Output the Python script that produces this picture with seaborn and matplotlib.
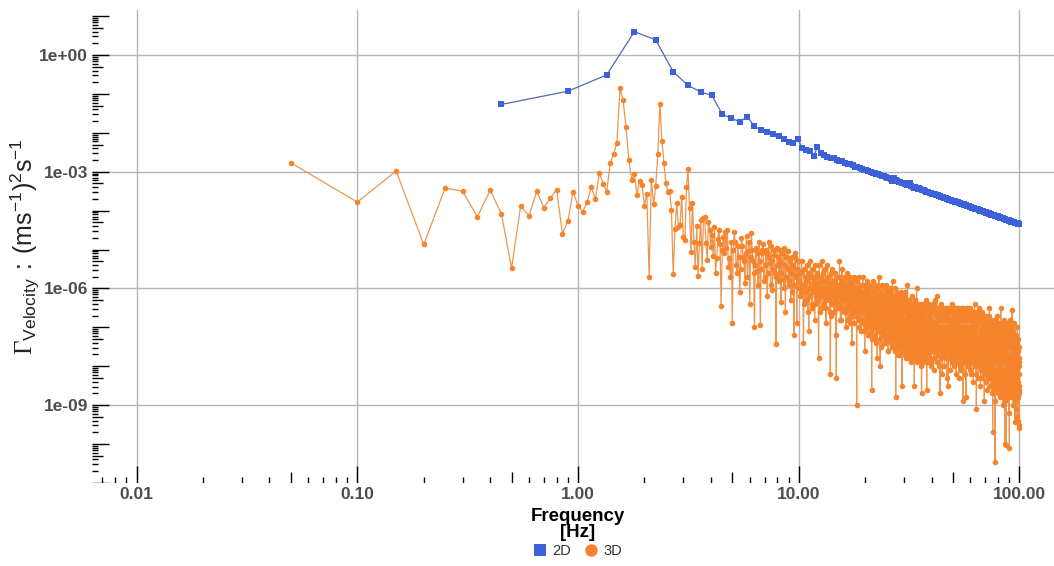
import numpy as np
import pandas as pd
import matplotlib
matplotlib.use("Agg")
import matplotlib.pyplot as plt
from matplotlib.lines import Line2D
import seaborn as sns

# ---------------------------------------------------------------
# data (log10 of the spectral density)
# ---------------------------------------------------------------

# 2D case, bins every 0.45 Hz starting at 0.45 Hz
step_2d = 0.45
psd_2d_log = [
    -1.27, -0.93, -0.51, 0.60, 0.39, -0.43, -0.78, -0.95, -1.04, -1.52,
    -1.63, -1.71, -1.59, -1.83, -1.93, -1.99, -2.04, -2.08, -2.17, -2.23,
    -2.27, -2.16, -2.38, -2.44, -2.48, -2.59, -2.37, -2.51, -2.58, -2.61,
    -2.64, -2.66, -2.70, -2.72, -2.73, -2.77, -2.80, -2.81, -2.84, -2.87,
    -2.88, -2.91, -2.92, -2.95, -2.96, -2.98, -3.01, -3.02, -3.03, -3.06,
    -3.07, -3.08, -3.11, -3.12, -3.14, -3.16, -3.17, -3.19, -3.23, -3.16,
    -3.22, -3.25, -3.26, -3.27, -3.29, -3.30, -3.31, -3.28, -3.34, -3.35,
    -3.28, -3.36, -3.38, -3.41, -3.40, -3.42, -3.44, -3.43, -3.45, -3.47,
    -3.47, -3.48, -3.49, -3.51, -3.52, -3.53, -3.54, -3.55, -3.56, -3.57,
    -3.57, -3.58, -3.59, -3.60, -3.61, -3.62, -3.63, -3.64, -3.65, -3.66,
    -3.67, -3.67, -3.68, -3.69, -3.70, -3.71, -3.72, -3.72, -3.73, -3.74,
    -3.75, -3.75, -3.76, -3.77, -3.78, -3.79, -3.79, -3.80, -3.81, -3.81,
    -3.82, -3.83, -3.84, -3.84, -3.85, -3.86, -3.86, -3.87, -3.88, -3.88,
    -3.89, -3.90, -3.90, -3.91, -3.92, -3.92, -3.93, -3.94, -3.94, -3.95,
    -3.95, -3.96, -3.97, -3.97, -3.98, -3.99, -3.99, -4.00, -4.00, -4.01,
    -4.01, -4.02, -4.03, -4.03, -4.04, -4.04, -4.05, -4.05, -4.06, -4.06,
    -4.07, -4.08, -4.08, -4.09, -4.09, -4.10, -4.10, -4.11, -4.11, -4.12,
    -4.12, -4.13, -4.13, -4.14, -4.14, -4.15, -4.15, -4.16, -4.16, -4.17,
    -4.17, -4.18, -4.18, -4.19, -4.19, -4.20, -4.20, -4.20, -4.21, -4.21,
    -4.22, -4.22, -4.23, -4.23, -4.24, -4.24, -4.25, -4.25, -4.25, -4.26,
    -4.26, -4.27, -4.27, -4.28, -4.28, -4.28, -4.29, -4.29, -4.30, -4.30,
    -4.30, -4.31, -4.31, -4.32, -4.32, -4.33, -4.33, -4.33, -4.34, -4.34,
    -4.35, -4.35,
]

# 3D case, 0.05 Hz bins up to 5 Hz
psd_3d_low_log = [
    -2.77, -3.78, -2.98, -4.87, -3.42, -3.50, -4.16, -3.48, -4.08, -5.48,
    -3.88, -4.13, -3.50, -3.92, -3.68, -3.46, -4.59, -4.27, -3.51, -3.88,
    -4.03, -3.78, -3.40, -3.71, -3.02, -3.32, -3.51, -2.77, -2.55, -2.25,
    -0.86, -1.16, -1.85, -2.70, -3.20, -3.07, -3.60, -3.24, -3.34, -3.87,
    -3.56, -5.70, -3.21, -3.83, -3.37, -2.54, -1.25, -2.21, -2.77, -3.28,
    -3.51, -3.49, -3.98, -5.63, -4.46, -3.81, -4.41, -4.37, -3.64, -4.69,
    -4.76, -3.40, -2.93, -3.94, -5.06, -3.81, -4.80, -5.46, -4.40, -5.68,
    -4.84, -4.24, -5.51, -4.20, -4.16, -4.84, -5.27, -4.29, -4.50, -4.93,
    -4.62, -5.17, -4.43, -5.60, -5.23, -4.74, -4.50, -4.85, -6.45, -5.01,
    -4.67, -5.10, -4.54, -4.95, -4.50, -5.44, -5.23, -5.70, -4.80, -6.88,
]

# 3D, 5 - 40 Hz: readings at 5.1, 5.2, ... 40.0 Hz
psd_3d_5_10_log = [
    -4.55, -5.40, -4.90, -6.10, -4.70, -5.20, -5.85, -4.65, -5.05, -6.40,
    -4.58, -5.30, -7.00, -4.95, -5.55, -4.80, -6.94, -5.10, -4.85, -5.70,
    -5.00, -6.20, -4.80, -5.35, -4.90, -6.05, -5.15, -5.60, -7.44, -4.95,
    -5.40, -5.00, -6.35, -5.10, -5.75, -4.95, -6.60, -5.20, -5.05, -5.90,
    -5.25, -6.30, -5.18, -5.45, -7.20, -5.10, -5.65, -6.89, -5.30, -5.55,
]
psd_3d_10_40_log = [
    -5.6, -6.1, -5.3, -5.9, -7.4, -5.5, -6.3, -5.8, -5.4, -6.6,
    -7.1, -5.7, -5.3, -6.0, -6.4, -5.5, -5.9, -6.8, -5.4, -6.2,
    -5.6, -5.9, -7.8, -5.4, -6.1, -5.7, -6.5, -5.3, -6.0, -5.8,
    -6.3, -5.5, -6.9, -5.8, -5.4, -6.2, -5.9, -6.6, -8.2, -5.6,
    -6.0, -5.5, -6.4, -5.8, -6.1, -5.6, -7.2, -8.3, -5.7, -6.2,
    -5.9, -6.5, -5.3, -6.0, -5.7, -6.8, -5.5, -6.3, -5.9, -6.1,
    -6.6, -5.7, -6.0, -7.0, -5.6, -6.2, -5.9, -6.5, -5.8, -6.9,
    -5.7, -6.3, -6.0, -7.4, -5.8, -6.1, -6.6, -5.7, -6.4, -6.0,
    -6.2, -6.7, -9.0, -5.8, -6.3, -6.0, -6.8, -5.7, -6.5, -6.1,
    -7.1, -5.9, -6.4, -6.2, -5.7, -6.9, -6.1, -6.5, -7.6, -5.9,
    -6.3, -6.0, -6.7, -5.8, -6.5, -7.2, -6.1, -6.4, -5.9, -6.8,
    -6.2, -7.0, -6.5, -8.6, -6.0, -6.3, -5.8, -6.9, -6.4, -6.1,
    -6.6, -7.3, -6.2, -5.9, -6.7, -6.3, -7.8, -6.0, -6.5, -6.2,
    -5.7, -6.4, -6.9, -8.0, -6.1, -6.6, -6.3, -7.1, -5.9, -6.5,
    -6.8, -6.2, -6.5, -7.4, -6.0, -6.7, -6.4, -5.9, -7.0, -6.3,
    -6.6, -6.1, -7.6, -6.4, -6.8, -6.2, -6.5, -7.2, -6.0, -6.7,
    -6.3, -6.9, -6.1, -7.5, -6.6, -5.8, -6.4, -7.0, -6.2, -6.8,
    -6.5, -7.2, -6.3, -6.0, -8.8, -6.7, -6.4, -7.3, -6.1, -6.6,
    -6.9, -6.3, -7.7, -6.5, -6.2, -7.0, -6.6, -6.4, -7.4, -6.1,
    -6.7, -7.1, -6.4, -8.5, -6.8, -6.3, -7.5, -6.6, -6.2, -6.9,
    -6.5, -7.3, -6.8, -6.1, -7.0, -6.6, -7.8, -6.4, -6.9, -6.3,
    -5.9, -6.7, -7.2, -6.5, -7.6, -6.8, -6.3, -7.1, -6.6, -7.4,
    -6.4, -6.9, -7.9, -6.6, -6.2, -7.3, -6.8, -6.5, -7.0, -6.7,
    -7.5, -6.4, -6.9, -8.5, -6.7, -6.3, -7.2, -6.6, -7.7, -6.5,
    -6.8, -6.0, -7.1, -6.6, -7.4, -6.9, -6.4, -7.8, -6.7, -7.0,
    -6.5, -7.3, -6.9, -7.6, -6.6, -7.0, -6.4, -8.0, -6.8, -8.7,
    -6.7, -7.2, -6.5, -7.5, -6.9, -6.4, -7.1, -6.8, -7.7, -6.6,
    -7.0, -6.5, -7.4, -6.8, -7.9, -6.6, -7.2, -6.9, -6.3, -8.6,
    -6.8, -7.3, -6.6, -7.0, -7.6, -6.5, -7.2, -6.9, -7.8, -6.7,
    -6.4, -7.1, -6.8, -7.5, -6.6, -7.3, -7.0, -6.5, -7.9, -6.9,
]
# 3D, 5 - 40 Hz: readings at the in-between bins 5.05, 5.15, ... 39.95 Hz
psd_3d_5_40_half_log = [
    -5.0, -4.8, -5.6, -5.2, -5.5, -4.9, -5.3, -5.1, -5.7, -4.8,
    -5.2, -5.0, -5.6, -5.4, -5.1, -5.9, -5.3, -5.5, -5.0, -5.8,
    -5.4, -5.1, -5.6, -5.2, -5.9, -5.3, -5.5, -5.0, -5.7, -5.4,
    -5.2, -5.8, -5.3, -5.6, -5.1, -6.0, -5.4, -5.7, -5.2, -5.5,
    -5.8, -5.3, -5.6, -6.1, -5.4, -5.9, -5.2, -5.7, -5.5, -6.0,
    -5.8, -6.2, -5.6, -6.0, -5.9, -6.4, -5.7, -6.1, -6.3, -5.8,
    -6.0, -5.6, -6.2, -5.9, -6.5, -5.7, -6.1, -5.8, -6.4, -6.0,
    -5.9, -6.3, -5.7, -6.1, -6.6, -5.8, -6.2, -6.0, -5.6, -6.4,
    -6.1, -5.8, -6.5, -6.0, -6.2, -5.7, -6.3, -6.1, -5.9, -6.7,
    -6.0, -6.4, -5.8, -6.2, -6.6, -6.0, -5.9, -6.3, -6.1, -6.5,
    -6.2, -5.9, -6.4, -6.1, -6.8, -6.0, -6.3, -5.8, -6.5, -6.2,
    -6.1, -6.6, -6.0, -6.3, -5.9, -6.5, -6.2, -6.8, -6.1, -6.4,
    -6.3, -6.0, -6.7, -6.2, -6.5, -5.9, -6.4, -6.1, -6.9, -6.3,
    -6.2, -6.5, -6.0, -6.7, -6.3, -6.6, -6.1, -6.4, -7.0, -6.2,
    -6.5, -6.3, -6.8, -6.1, -6.6, -6.4, -6.2, -7.1, -6.5, -6.3,
    -6.6, -6.3, -7.0, -6.5, -6.8, -6.2, -7.2, -6.6, -6.9, -6.4,
    -6.7, -7.1, -6.4, -6.9, -6.5, -7.3, -6.7, -6.3, -7.0, -6.6,
    -6.8, -6.5, -7.2, -6.7, -7.4, -6.6, -6.9, -6.4, -7.1, -6.8,
    -6.5, -7.0, -6.8, -7.3, -6.6, -6.9, -7.5, -6.7, -7.0, -6.5,
    -7.2, -6.8, -6.6, -7.1, -6.9, -7.4, -6.7, -7.0, -6.6, -7.3,
    -6.9, -6.6, -7.2, -6.8, -7.6, -6.7, -7.0, -6.9, -7.3, -6.6,
    -7.1, -6.8, -7.4, -6.7, -7.0, -7.5, -6.8, -7.2, -6.9, -7.0,
    -6.7, -7.3, -6.9, -7.6, -6.8, -7.1, -6.6, -7.4, -7.0, -6.9,
    -7.2, -6.8, -7.5, -7.0, -6.9, -7.3, -6.7, -7.7, -7.1, -6.9,
    -7.0, -7.4, -6.8, -7.2, -7.6, -6.9, -7.3, -7.0, -6.8, -7.5,
    -7.1, -6.9, -7.4, -7.2, -7.7, -6.8, -7.3, -7.0, -7.5, -6.9,
    -7.2, -7.6, -7.0, -7.3, -6.9, -7.8, -7.1, -7.4, -7.0, -7.2,
    -6.9, -7.5, -7.2, -7.0, -7.7, -7.3, -6.8, -7.4, -7.1, -7.6,
    -7.3, -7.0, -7.8, -7.2, -7.5, -6.9, -7.4, -7.1, -7.7, -7.2,
    -7.0, -7.6, -7.3, -7.1, -7.9, -7.4, -7.0, -7.5, -7.2, -7.3,
    -7.4, -7.1, -7.7, -7.3, -7.0, -7.6, -7.2, -7.8, -7.4, -7.1,
    -7.2, -7.5, -7.0, -7.7, -7.3, -7.4, -7.1, -7.9, -7.5, -7.2,
    -7.6, -7.3, -7.1, -7.5, -7.8, -7.2, -7.4, -7.0, -7.6, -7.3,
    -7.1, -7.7, -7.4, -7.2, -7.5, -7.9, -7.3, -7.6, -7.2, -7.4,
    -7.5, -7.2, -7.8, -7.4, -7.1, -7.6, -7.3, -8.0, -7.5, -7.3,
]
# 3D, 40 - 100 Hz: readings every 0.1 Hz
psd_3d_40_70_log = [
    -7.2, -6.5, -7.6, -6.9, -6.4, -7.4, -7.0, -8.1, -6.6, -7.3,
    -6.6, -7.5, -7.1, -6.5, -7.8, -6.3, -7.2, -6.9, -7.6, -7.0,
    -6.7, -6.2, -7.4, -7.0, -7.9, -6.5, -7.3, -6.6, -7.7, -7.1,
    -6.5, -7.5, -6.6, -8.0, -7.2, -8.7, -6.8, -7.4, -6.4, -7.8,
    -6.7, -7.3, -7.1, -6.5, -7.6, -7.0, -8.2, -6.6, -7.4, -6.8,
    -7.2, -6.5, -7.7, -7.0, -7.4, -6.6, -8.0, -7.3, -6.7, -7.5,
    -7.1, -6.6, -7.8, -6.5, -7.3, -7.0, -7.6, -6.8, -8.3, -7.2,
    -6.7, -7.4, -7.0, -8.5, -6.5, -7.5, -7.1, -6.6, -7.8, -7.3,
    -6.6, -7.2, -7.6, -6.9, -7.4, -6.5, -8.1, -6.8, -7.5, -7.1,
    -7.7, -6.6, -7.3, -6.4, -7.6, -7.0, -7.9, -6.8, -7.4, -7.2,
    -6.6, -7.5, -7.1, -8.0, -6.5, -7.6, -7.2, -7.0, -7.8, -6.7,
    -7.3, -6.6, -7.7, -6.9, -8.2, -7.4, -7.1, -6.5, -7.6, -7.2,
    -7.0, -7.8, -6.5, -7.4, -7.1, -7.9, -6.7, -7.5, -7.2, -8.3,
    -6.6, -7.3, -7.0, -7.7, -6.5, -7.5, -7.2, -8.0, -6.8, -7.4,
    -7.1, -7.6, -6.6, -7.3, -8.1, -7.0, -7.7, -6.5, -7.4, -7.2,
    -7.5, -6.7, -7.8, -7.1, -8.9, -7.3, -6.5, -7.6, -7.0, -7.4,
    -7.2, -7.9, -6.6, -7.5, -7.1, -7.7, -6.8, -8.2, -7.3, -6.6,
    -7.6, -7.2, -8.8, -6.7, -7.4, -7.1, -7.8, -6.5, -7.5, -7.3,
    -7.0, -7.7, -7.3, -8.0, -6.6, -7.6, -7.2, -7.4, -6.7, -7.9,
    -7.3, -6.8, -7.8, -7.2, -7.5, -6.5, -8.1, -7.4, -7.1, -7.6,
    -6.7, -7.7, -7.3, -7.0, -8.2, -7.5, -6.6, -7.8, -6.8, -7.4,
    -7.6, -7.1, -7.9, -6.6, -6.9, -7.7, -7.2, -8.4, -7.0, -7.5,
    -7.2, -6.6, -7.8, -7.1, -7.4, -6.4, -7.6, -7.0, -8.0, -7.3,
    -6.7, -7.7, -7.4, -8.2, -7.0, -7.6, -6.6, -9.1, -7.2, -7.5,
    -7.8, -6.7, -7.5, -6.9, -7.7, -7.3, -8.3, -6.6, -7.6, -7.4,
    -7.2, -7.9, -6.7, -7.5, -6.5, -7.7, -7.4, -8.0, -6.8, -7.6,
    -7.3, -7.8, -6.6, -7.6, -7.4, -8.5, -7.1, -7.7, -6.7, -7.9,
    -7.5, -6.8, -8.1, -7.4, -7.0, -7.8, -6.6, -7.6, -8.3, -7.2,
    -7.4, -7.9, -6.7, -7.7, -7.1, -8.0, -7.5, -6.8, -7.8, -7.0,
    -7.6, -6.9, -8.9, -7.5, -7.1, -7.8, -6.7, -8.2, -7.2, -7.7,
]
psd_3d_70_100_log = [
    -7.2, -7.8, -6.9, -8.1, -7.4, -6.7, -8.4, -7.1, -7.6, -7.3,
    -7.7, -7.0, -8.0, -7.4, -6.8, -8.6, -7.5, -7.2, -7.9, -6.9,
    -7.6, -8.2, -7.1, -7.4, -6.7, -8.0, -7.3, -7.7, -7.0, -8.3,
    -6.5, -7.5, -7.9, -7.0, -8.1, -7.3, -7.6, -6.9, -8.5, -7.2,
    -7.8, -7.3, -8.2, -6.8, -7.7, -7.4, -8.0, -7.1, -7.5, -8.7,
    -7.3, -8.1, -7.5, -6.9, -8.3, -9.7, -7.6, -7.2, -7.9, -7.0,
    -7.8, -7.4, -8.4, -7.6, -6.8, -8.1, -7.3, -7.7, -8.6, -7.2,
    -7.0, -7.9, -7.5, -8.9, -10.45, -7.4, -8.2, -6.9, -7.8, -7.5,
    -8.1, -7.2, -8.3, -7.6, -6.8, -8.5, -7.4, -7.9, -7.0, -8.2,
    -7.6, -8.4, -7.1, -7.9, -6.7, -8.7, -7.7, -7.2, -8.1, -7.4,
    -8.2, -7.3, -7.8, -8.5, -7.0, -7.9, -6.9, -8.3, -7.5, -8.6,
    -7.1, -8.0, -7.7, -7.3, -8.4, -7.5, -8.8, -7.6, -7.9, -7.0,
    -8.3, -7.7, -6.5, -8.1, -7.4, -8.5, -7.6, -8.2, -7.2, -7.9,
    -7.8, -8.6, -7.3, -8.2, -6.9, -7.9, -8.4, -7.5, -9.0, -7.2,
    -8.1, -7.1, -8.3, -7.7, -8.7, -7.4, -7.9, -8.5, -6.8, -8.2,
    -7.3, -8.4, -7.9, -7.0, -8.8, -7.6, -8.2, -7.5, -8.6, -10.0,
    -7.9, -7.2, -8.3, -8.9, -7.5, -8.1, -6.9, -8.5, -7.7, -10.02,
    -8.2, -7.6, -8.6, -7.9, -7.1, -8.4, -8.0, -7.4, -8.8, -7.0,
    -8.3, -7.7, -8.0, -8.7, -7.3, -8.2, -7.8, -8.5, -6.9, -8.4,
    -7.5, -8.6, -8.1, -7.2, -9.2, -7.9, -8.3, -7.0, -8.5, -10.11,
    -8.0, -7.4, -8.4, -7.8, -8.7, -7.1, -8.2, -6.8, -8.6, -7.9,
    -7.3, -8.3, -8.0, -8.8, -7.5, -8.5, -7.8, -7.0, -8.4, -8.1,
    -7.7, -8.6, -7.2, -8.3, -6.55, -8.0, -8.7, -7.5, -8.4, -8.1,
    -7.4, -8.5, -7.9, -8.8, -7.1, -8.3, -7.7, -9.0, -8.1, -7.3,
    -8.4, -7.8, -8.7, -7.2, -8.2, -8.6, -7.6, -8.4, -6.9, -8.9,
    -8.0, -8.5, -7.5, -9.43, -8.2, -7.3, -8.6, -7.9, -8.4, -8.8,
    -7.6, -8.4, -8.0, -8.7, -7.2, -8.5, -7.8, -9.1, -8.2, -8.6,
    -7.9, -8.8, -7.4, -8.3, -8.6, -7.7, -9.3, -8.1, -7.0, -8.5,
    -8.4, -7.6, -8.7, -8.0, -9.4, -7.3, -8.6, -7.9, -8.8, -8.2,
    -7.8, -8.7, -7.5, -8.5, -9.5, -7.9, -8.6, -8.2, -9.6, -8.0,
]

x_ticks = [0.01, 0.1, 1, 10, 100]
x_ticklabels = ["0.01", "0.10", "1.00", "10.00", "100.00"]
y_ticks = [1e0, 1e-3, 1e-6, 1e-9]
y_ticklabels = ["1e+00", "1e-03", "1e-06", "1e-09"]
series_labels = ["2D", "3D"]

# ---------------------------------------------------------------
# tables
# ---------------------------------------------------------------
freq_2d = step_2d * np.arange(1, len(psd_2d_log) + 1)
df_2d = pd.DataFrame({"freq": freq_2d, "psd": 10.0 ** np.array(psd_2d_log)})

# 5-40 Hz: interleave the half-bin and full-bin readings
full_5_40 = np.array(psd_3d_5_10_log + psd_3d_10_40_log)
half_5_40 = np.array(psd_3d_5_40_half_log)
n_mid = min(len(full_5_40), len(half_5_40))
mid_log = np.column_stack([half_5_40[:n_mid], full_5_40[:n_mid]]).ravel()
mid_freq = 5.0 + 0.05 * np.arange(1, len(mid_log) + 1)

top_log = np.array(psd_3d_40_70_log + psd_3d_70_100_log)
top_freq = mid_freq[-1] + 0.1 * np.arange(1, len(top_log) + 1)

low_freq = 0.05 * np.arange(1, len(psd_3d_low_log) + 1)
freq_3d = np.concatenate([low_freq, mid_freq, top_freq])
psd_3d = 10.0 ** np.concatenate([psd_3d_low_log, mid_log, top_log])
df_3d = pd.DataFrame({"freq": freq_3d, "psd": psd_3d})

# ---------------------------------------------------------------
# style
# ---------------------------------------------------------------
sns.set_theme(style="white")
plt.rcParams["font.family"] = ["Liberation Sans", "DejaVu Sans"]
plt.rcParams["mathtext.fontset"] = "custom"
plt.rcParams["mathtext.rm"] = "Liberation Serif"
plt.rcParams["mathtext.sf"] = "Liberation Sans"

blue = "#3d61d9"
blue_line = "#5069b2"
orange = "#f5842c"
orange_line = "#ec9650"
label_grey = "#4d4d4d"

W, H = 1054, 566
fig = plt.figure(figsize=(W / 100, H / 100), dpi=100)
# panel runs past the right edge of the picture (the original is cropped)
px_left, px_right, px_top, px_bottom = 92.4, 1063.6, 10.3, 482.9
ax = fig.add_axes([px_left / W, 1 - px_bottom / H,
                   (px_right - px_left) / W, (px_bottom - px_top) / H])

sns.lineplot(data=df_2d, x="freq", y="psd", ax=ax, estimator=None, sort=False,
             color=blue_line, lw=0.9, marker="s", markersize=3.8,
             markerfacecolor=blue, markeredgecolor=blue, markeredgewidth=0)
sns.lineplot(data=df_3d, x="freq", y="psd", ax=ax, estimator=None, sort=False,
             color=orange_line, lw=0.9, marker="o", markersize=4.0,
             markerfacecolor=orange, markeredgecolor=orange, markeredgewidth=0)

ax.set_xscale("log")
ax.set_yscale("log")

# log ticks drawn inside the panel (long at 1, mid at 5, short otherwise)
ax_w = px_right - px_left
ax_h = px_bottom - px_top
mult = np.arange(1, 10)
tick_len = np.where(mult == 1, 16.5, np.where(mult == 5, 11.0, 5.5))

xt = (mult[None, :] * 10.0 ** np.arange(-3, 3)[:, None]).ravel()
xl = np.tile(tick_len, 6)
keep = (xt >= 10 ** -2.2) & (xt <= 10 ** 2.2)
ax.vlines(xt[keep], 0, xl[keep] / ax_h, transform=ax.get_xaxis_transform(),
          colors="black", lw=1.0)

yt = (mult[None, :] * 10.0 ** np.arange(-12, 2)[:, None]).ravel()
yl = np.tile(tick_len, 14)
keep = (yt >= 10 ** -11.0 * 0.999) & (yt <= 10 ** 1.15)
ax.hlines(yt[keep], 0, yl[keep] / ax_w, transform=ax.get_yaxis_transform(),
          colors="black", lw=1.0)

ax.set_xlim(10 ** -2.2, 10 ** 2.2)
ax.set_ylim(10 ** -11.0, 10 ** 1.15)
ax.minorticks_off()
ax.set_xticks(x_ticks)
ax.set_xticklabels(x_ticklabels, fontweight="bold", color=label_grey, fontsize=12.5)
ax.set_yticks(y_ticks)
ax.set_yticklabels(y_ticklabels, fontweight="bold", color=label_grey, fontsize=12.5)
ax.tick_params(axis="both", length=0, pad=3)
ax.grid(True, which="major", color="#b5b5b5", lw=1.0)
ax.set_axisbelow(True)
sns.despine(ax=ax, left=True, bottom=True)

ax.set_xlabel("Frequency\n[Hz]", fontweight="bold", fontsize=13.5,
              color="black", linespacing=0.95, labelpad=4)
ax.set_ylabel("")
fig.text(25 / W, 1 - (px_top + px_bottom) / 2 / H,
         r"$\Gamma_{\mathsf{Velocity}}\mathsf{\,:\,(ms^{-1})^{2}s^{-1}}$",
         rotation=90, ha="center", va="center", fontsize=18, color="#222222")

handles = [
    Line2D([], [], ls="", marker="s", ms=8.5, color=blue, mew=0),
    Line2D([], [], ls="", marker="o", ms=9, color=orange, mew=0),
]
fig.legend(handles, series_labels, loc="center", bbox_to_anchor=(578 / W, 1 - 551 / H),
           ncol=2, frameon=False, fontsize=10.5, handlelength=0.9,
           handletextpad=0.4, columnspacing=0.9, labelcolor="#333333")

fig.savefig("out.png", dpi=100)
